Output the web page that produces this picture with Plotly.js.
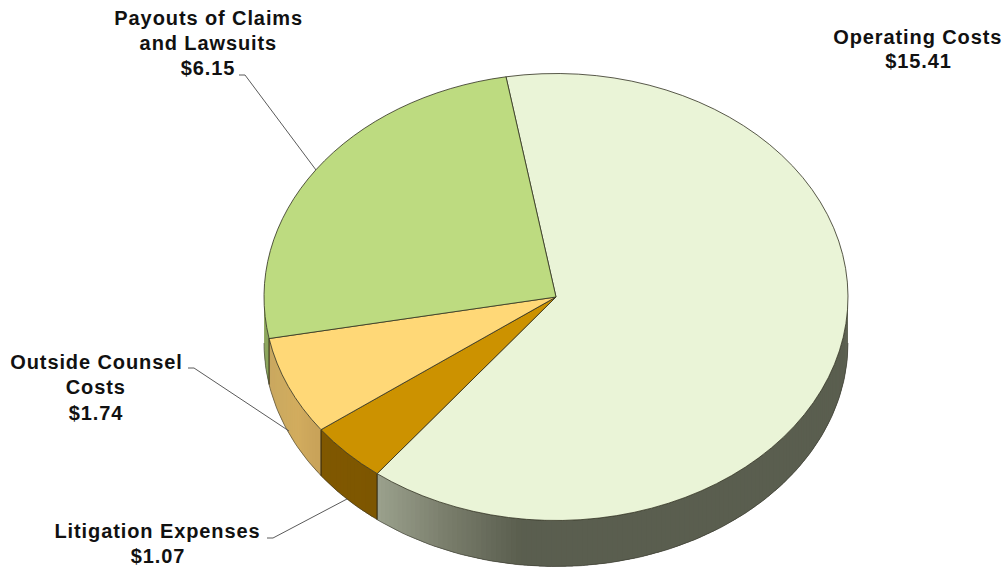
<!DOCTYPE html>
<html>
<head>
<meta charset="utf-8">
<script src="https://cdn.plot.ly/plotly-3.0.1.min.js"></script>
<style>html,body{margin:0;padding:0;background:#fff;overflow:hidden}</style>
</head>
<body>
<div id="chart" style="width:1008px;height:569px"></div>
<script>
// Data, clockwise from the slice boundary at the top of the pie
const categories = ["Operating Costs", "Litigation Expenses", "Outside Counsel Costs", "Payouts of Claims and Lawsuits"];
const values = [15.41, 1.07, 1.74, 6.15];
const valueLabels = ["$15.41", "$1.07", "$1.74", "$6.15"];
const labelLines = [["Operating Costs"], ["Litigation Expenses"], ["Outside Counsel", "Costs"], ["Payouts of Claims", "and Lawsuits"]];
const sliceColors = ["#EAF4D7", "#CC9200", "#FFD877", "#BDDB80"];

// Style and geometry of the tilted disc (page pixels)
const W = 1008, H = 569;
const cx = 556, cy = 297, rx = 292, ry = 223.5, depth = 46;
const rotation = -9.86;
const baseR = 200;
const wallStops = [
  [[380, [156,162,142]], [450, [122,126,108]], [525, [90,94,79]], [900, [90,94,79]]],
  [[320, [128,88,0]], [380, [125,86,0]]],
  [[265, [200,168,96]], [300, [210,172,94]], [325, [198,160,88]]],
  [[260, [140,165,92]], [280, [140,165,92]]]
];
const labelX = [918, 157.5, 96, 208];
const labelLineY = [[37, 61], [531, 556], [362, 387, 413], [18, 43, 68]];
const leaders = [
  null,
  [[267, 273, 347], [538, 538, 499]],
  [[188, 194, 289], [368, 368, 431]],
  [[239, 245, 316], [75, 75, 170]]
];

function mix(stops, x) {
  if (x <= stops[0][0]) return stops[0][1];
  for (let i = 1; i < stops.length; i++) {
    if (x <= stops[i][0]) {
      const t = (x - stops[i-1][0]) / (stops[i][0] - stops[i-1][0]);
      return stops[i-1][1].map((c, k) => c + (stops[i][1][k] - c) * t);
    }
  }
  return stops[stops.length-1][1];
}
const px = a => cx + rx * Math.sin(a * Math.PI / 180);
const py = a => cy - ry * Math.cos(a * Math.PI / 180);

const total = values.reduce((s, v) => s + v, 0);
const traces = [];
let start = rotation;
values.forEach((v, i) => {
  const end = start + v / total * 360;
  const a0 = Math.max(start, 90), a1 = Math.min(end, 270);
  if (a1 > a0) {
    const n = Math.max(1, Math.ceil((a1 - a0) / 1));
    const step = (a1 - a0) / n;
    // Painted from the high-angle end back; each band overlaps its neighbour so no seams show.
    for (let j = n - 1; j >= 0; j--) {
      const p = a0 + j * step, q = Math.min(a1, p + 2 * step), m = p + step / 2;
      const c = mix(wallStops[i], px(m)).map(Math.round);
      const col = `rgb(${c[0]},${c[1]},${c[2]})`;
      const xs = [], ys = [];
      const arc = [];
      for (let k = 0; k <= 6; k++) arc.push(p + (q - p) * k / 6);
      for (const a of arc) { xs.push(px(a)); ys.push(py(a)); }
      for (const a of arc.slice().reverse()) { xs.push(px(a)); ys.push(py(a) + depth); }
      traces.push({type: "scatter", mode: "none", x: xs, y: ys, fill: "toself", fillcolor: col,
        hoverinfo: "skip", showlegend: false});
    }
    // outline of this wall piece
    const ox = [], oy = [];
    for (let j = 0; j <= n; j++) { const a = a0 + j * step; ox.push(px(a)); oy.push(py(a) + depth); }
    traces.push({type: "scatter", mode: "lines", x: ox, y: oy, line: {color: "#3a3a30", width: 0.6},
      hoverinfo: "skip", showlegend: false});
    if (a0 === start) {
      traces.push({type: "scatter", mode: "lines", x: [px(a0), px(a0)], y: [py(a0), py(a0) + depth],
        line: {color: "#2a2410", width: 1}, hoverinfo: "skip", showlegend: false});
    }
  }
  start = end;
});

leaders.forEach(l => {
  if (l) traces.push({type: "scatter", mode: "lines", x: l[0], y: l[1], line: {color: "#5a5a5a", width: 1},
    hoverinfo: "skip", showlegend: false});
});

traces.push({
  type: "pie", labels: categories, values: values, sort: false, direction: "clockwise",
  rotation: rotation, textinfo: "none", hoverinfo: "label+value", showlegend: false,
  marker: {colors: sliceColors, line: {color: "#2e2e1e", width: 0.8}},
  domain: {x: [(cx - baseR) / W, (cx + baseR) / W], y: [(H - cy - baseR) / H, (H - cy + baseR) / H]}
});

const annotations = [];
categories.forEach((c, i) => {
  labelLines[i].concat([valueLabels[i]]).forEach((t, k) => {
    annotations.push({
      x: labelX[i], y: labelLineY[i][k], xref: "x", yref: "y", showarrow: false,
      align: "center", xanchor: "center", yanchor: "middle",
      text: "<b>" + t + "</b>",
      font: {family: "Liberation Sans, Arial, sans-serif", size: 20, color: "#111"}
    });
  });
});

const layout = {
  width: W, height: H, margin: {l: 0, r: 0, t: 0, b: 0}, showlegend: false,
  paper_bgcolor: "#fff", plot_bgcolor: "#fff",
  xaxis: {range: [0, W], visible: false, fixedrange: true},
  yaxis: {range: [H, 0], visible: false, fixedrange: true},
  annotations: annotations
};

Plotly.newPlot("chart", traces, layout, {displayModeBar: false, staticPlot: true}).then(gd => {
  // Tilt the round pie into the disc's elliptical top face
  const sx = rx / baseR, sy = ry / baseR;
  gd.querySelectorAll(".pielayer").forEach(g => {
    g.setAttribute("transform", `translate(${cx},${cy}) scale(${sx},${sy}) translate(${-cx},${-cy})`);
  });
  gd.querySelectorAll(".pielayer path").forEach(p => p.setAttribute("vector-effect", "non-scaling-stroke"));
  // The source labels are set slightly wider than the font's natural spacing
  gd.querySelectorAll(".annotation-text").forEach(t => { t.style.letterSpacing = "0.9px"; });
});
</script>
</body>
</html>
